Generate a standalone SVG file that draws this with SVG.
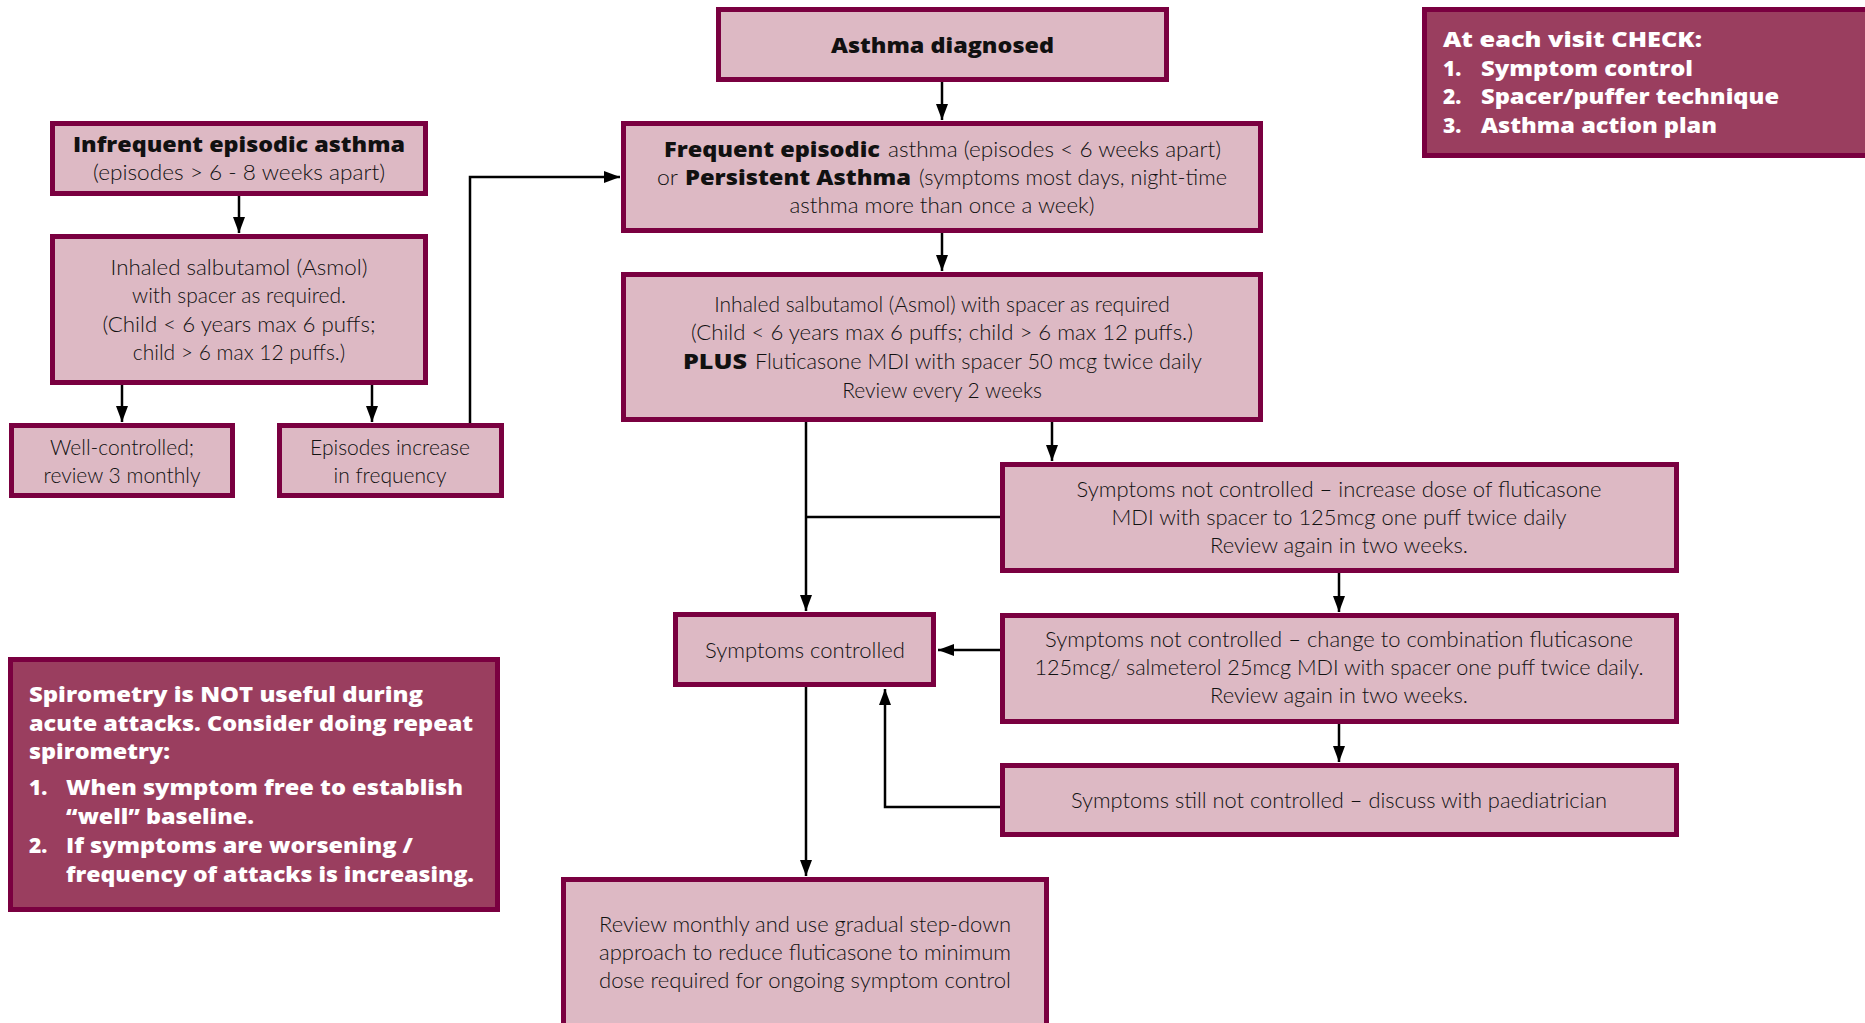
<svg xmlns="http://www.w3.org/2000/svg" width="1865" height="1023" viewBox="0 0 1865 1023">
<style>
  .box { fill: #ddb9c4; stroke: #7a0040; stroke-width: 5; }
  .dark { fill: #9a3e5f; stroke: #7a0040; stroke-width: 5; }
  .t { font-family: Lato, "Open Sans", sans-serif; font-size: 21px; font-weight: 300; fill: #111111; text-anchor: middle; }
  .s { text-anchor: start; }
  .b { font-family: "Open Sans", Lato, sans-serif; font-weight: 800; font-size: 21px; fill: #111; }
  .w { font-family: "Open Sans", Lato, sans-serif; font-size: 21px; font-weight: 800; fill: #ffffff; }
  .c { fill: none; stroke: #000; stroke-width: 2.5; }
</style>
<defs>
  <marker id="ah" markerUnits="userSpaceOnUse" markerWidth="16" markerHeight="12" refX="16" refY="6" orient="auto">
    <path d="M0,0 L16,6 L0,12 z" fill="#000"/>
  </marker>
</defs>
<rect width="1865" height="1023" fill="#ffffff"/>

<g id="connectors">
  <path class="c" d="M942,82 V120" marker-end="url(#ah)"/>
  <path class="c" d="M942,233 V271" marker-end="url(#ah)"/>
  <path class="c" d="M239,196 V233" marker-end="url(#ah)"/>
  <path class="c" d="M122,385 V422" marker-end="url(#ah)"/>
  <path class="c" d="M372,385 V422" marker-end="url(#ah)"/>
  <path class="c" d="M470,423 V177 H620" marker-end="url(#ah)"/>
  <path class="c" d="M1052,422 V461" marker-end="url(#ah)"/>
  <path class="c" d="M806,422 V611" marker-end="url(#ah)"/>
  <path class="c" d="M1000,517 H806"/>
  <path class="c" d="M1339,573 V612" marker-end="url(#ah)"/>
  <path class="c" d="M1000,650 H938" marker-end="url(#ah)"/>
  <path class="c" d="M1339,724 V762" marker-end="url(#ah)"/>
  <path class="c" d="M1000,807 H885 V689" marker-end="url(#ah)"/>
  <path class="c" d="M806,687 V876" marker-end="url(#ah)"/>
</g>

<g id="asthma-diagnosed">
  <rect class="box" x="718.5" y="9.5" width="448" height="70"/>
  <text class="b" x="831" y="53" font-size="22" textLength="223" lengthAdjust="spacingAndGlyphs">Asthma diagnosed</text>
</g>

<g id="frequent">
  <rect class="box" x="623.5" y="123.5" width="637" height="107"/>
  <text class="b" x="664" y="157" textLength="216" lengthAdjust="spacingAndGlyphs">Frequent episodic</text>
  <text class="t s" x="888" y="157" textLength="333" lengthAdjust="spacingAndGlyphs">asthma (episodes &lt; 6 weeks apart)</text>
  <text class="t s" x="657" y="185" textLength="21" lengthAdjust="spacingAndGlyphs">or</text>
  <text class="b" x="685" y="185" textLength="226" lengthAdjust="spacingAndGlyphs">Persistent Asthma</text>
  <text class="t s" x="919" y="185" textLength="308" lengthAdjust="spacingAndGlyphs">(symptoms most days, night-time</text>
  <text class="t" x="942" y="213" textLength="305" lengthAdjust="spacingAndGlyphs">asthma more than once a week)</text>
</g>

<g id="plus-fluticasone">
  <rect class="box" x="623.5" y="274.5" width="637" height="145"/>
  <text class="t" x="942" y="312">Inhaled salbutamol (Asmol) with spacer as required</text>
  <text class="t" x="942" y="340" textLength="502" lengthAdjust="spacingAndGlyphs">(Child &lt; 6 years max 6 puffs; child &gt; 6 max 12 puffs.)</text>
  <text class="b" x="683" y="369" textLength="64" lengthAdjust="spacingAndGlyphs">PLUS</text>
  <text class="t s" x="755" y="369" textLength="447" lengthAdjust="spacingAndGlyphs">Fluticasone MDI with spacer 50 mcg twice daily</text>
  <text class="t" x="942" y="398">Review every 2 weeks</text>
</g>

<g id="infrequent">
  <rect class="box" x="52.5" y="123.5" width="373" height="70"/>
  <text class="b" x="73" y="152" textLength="332" lengthAdjust="spacingAndGlyphs">Infrequent episodic asthma</text>
  <text class="t" x="239" y="180" textLength="292" lengthAdjust="spacingAndGlyphs">(episodes &gt; 6 - 8 weeks apart)</text>
</g>

<g id="inhaled-salbutamol">
  <rect class="box" x="52.5" y="236.5" width="373" height="146"/>
  <text class="t" x="239" y="275" textLength="257" lengthAdjust="spacingAndGlyphs">Inhaled salbutamol (Asmol)</text>
  <text class="t" x="239" y="303">with spacer as required.</text>
  <text class="t" x="239" y="332" textLength="273" lengthAdjust="spacingAndGlyphs">(Child &lt; 6 years max 6 puffs;</text>
  <text class="t" x="239" y="360">child &gt; 6 max 12 puffs.)</text>
</g>

<g id="well-controlled">
  <rect class="box" x="11.5" y="425.5" width="221" height="70"/>
  <text class="t" x="122" y="455">Well-controlled;</text>
  <text class="t" x="122" y="483">review 3 monthly</text>
</g>

<g id="episodes-increase">
  <rect class="box" x="279.5" y="425.5" width="222" height="70"/>
  <text class="t" x="390" y="455">Episodes increase</text>
  <text class="t" x="390" y="483">in frequency</text>
</g>

<g id="not-controlled-1">
  <rect class="box" x="1002.5" y="464.5" width="674" height="106"/>
  <text class="t" x="1339" y="497" textLength="525" lengthAdjust="spacingAndGlyphs">Symptoms not controlled – increase dose of fluticasone</text>
  <text class="t" x="1339" y="525" textLength="455" lengthAdjust="spacingAndGlyphs">MDI with spacer to 125mcg one puff twice daily</text>
  <text class="t" x="1339" y="553" textLength="258" lengthAdjust="spacingAndGlyphs">Review again in two weeks.</text>
</g>

<g id="not-controlled-2">
  <rect class="box" x="1002.5" y="615.5" width="674" height="106"/>
  <text class="t" x="1339" y="647" textLength="588" lengthAdjust="spacingAndGlyphs">Symptoms not controlled – change to combination fluticasone</text>
  <text class="t" x="1339" y="675" textLength="609" lengthAdjust="spacingAndGlyphs">125mcg/ salmeterol 25mcg MDI with spacer one puff twice daily.</text>
  <text class="t" x="1339" y="703" textLength="258" lengthAdjust="spacingAndGlyphs">Review again in two weeks.</text>
</g>

<g id="still-not-controlled">
  <rect class="box" x="1002.5" y="765.5" width="674" height="69"/>
  <text class="t" x="1339" y="808" textLength="536" lengthAdjust="spacingAndGlyphs">Symptoms still not controlled – discuss with paediatrician</text>
</g>

<g id="symptoms-controlled">
  <rect class="box" x="675.5" y="614.5" width="258" height="70"/>
  <text class="t" x="805" y="658" textLength="200" lengthAdjust="spacingAndGlyphs">Symptoms controlled</text>
</g>

<g id="review-monthly">
  <rect class="box" x="563.5" y="879.5" width="483" height="170"/>
  <text class="t" x="805" y="932" textLength="412" lengthAdjust="spacingAndGlyphs">Review monthly and use gradual step-down</text>
  <text class="t" x="805" y="960" textLength="412" lengthAdjust="spacingAndGlyphs">approach to reduce fluticasone to minimum</text>
  <text class="t" x="805" y="988" textLength="412" lengthAdjust="spacingAndGlyphs">dose required for ongoing symptom control</text>
</g>

<g id="visit-check">
  <rect class="dark" x="1424.5" y="9.5" width="460" height="146"/>
  <text class="w" x="1443" y="47" textLength="259" lengthAdjust="spacingAndGlyphs">At each visit CHECK:</text>
  <text class="w" x="1443" y="76">1.</text><text class="w" x="1481" y="76" textLength="212" lengthAdjust="spacingAndGlyphs">Symptom control</text>
  <text class="w" x="1443" y="104">2.</text><text class="w" x="1481" y="104" textLength="298" lengthAdjust="spacingAndGlyphs">Spacer/puffer technique</text>
  <text class="w" x="1443" y="133">3.</text><text class="w" x="1481" y="133" textLength="236" lengthAdjust="spacingAndGlyphs">Asthma action plan</text>
</g>

<g id="spirometry">
  <rect class="dark" x="10.5" y="659.5" width="487" height="250"/>
  <text class="w" x="29" y="702" textLength="394" lengthAdjust="spacingAndGlyphs">Spirometry is NOT useful during</text>
  <text class="w" x="29" y="731" textLength="444" lengthAdjust="spacingAndGlyphs">acute attacks. Consider doing repeat</text>
  <text class="w" x="29" y="759" textLength="141" lengthAdjust="spacingAndGlyphs">spirometry:</text>
  <text class="w" x="29" y="795">1.</text><text class="w" x="66" y="795" textLength="397" lengthAdjust="spacingAndGlyphs">When symptom free to establish</text>
  <text class="w" x="66" y="824" textLength="188" lengthAdjust="spacingAndGlyphs">“well” baseline.</text>
  <text class="w" x="29" y="853">2.</text><text class="w" x="66" y="853" textLength="347" lengthAdjust="spacingAndGlyphs">If symptoms are worsening /</text>
  <text class="w" x="66" y="882" textLength="408" lengthAdjust="spacingAndGlyphs">frequency of attacks is increasing.</text>
</g>
</svg>
